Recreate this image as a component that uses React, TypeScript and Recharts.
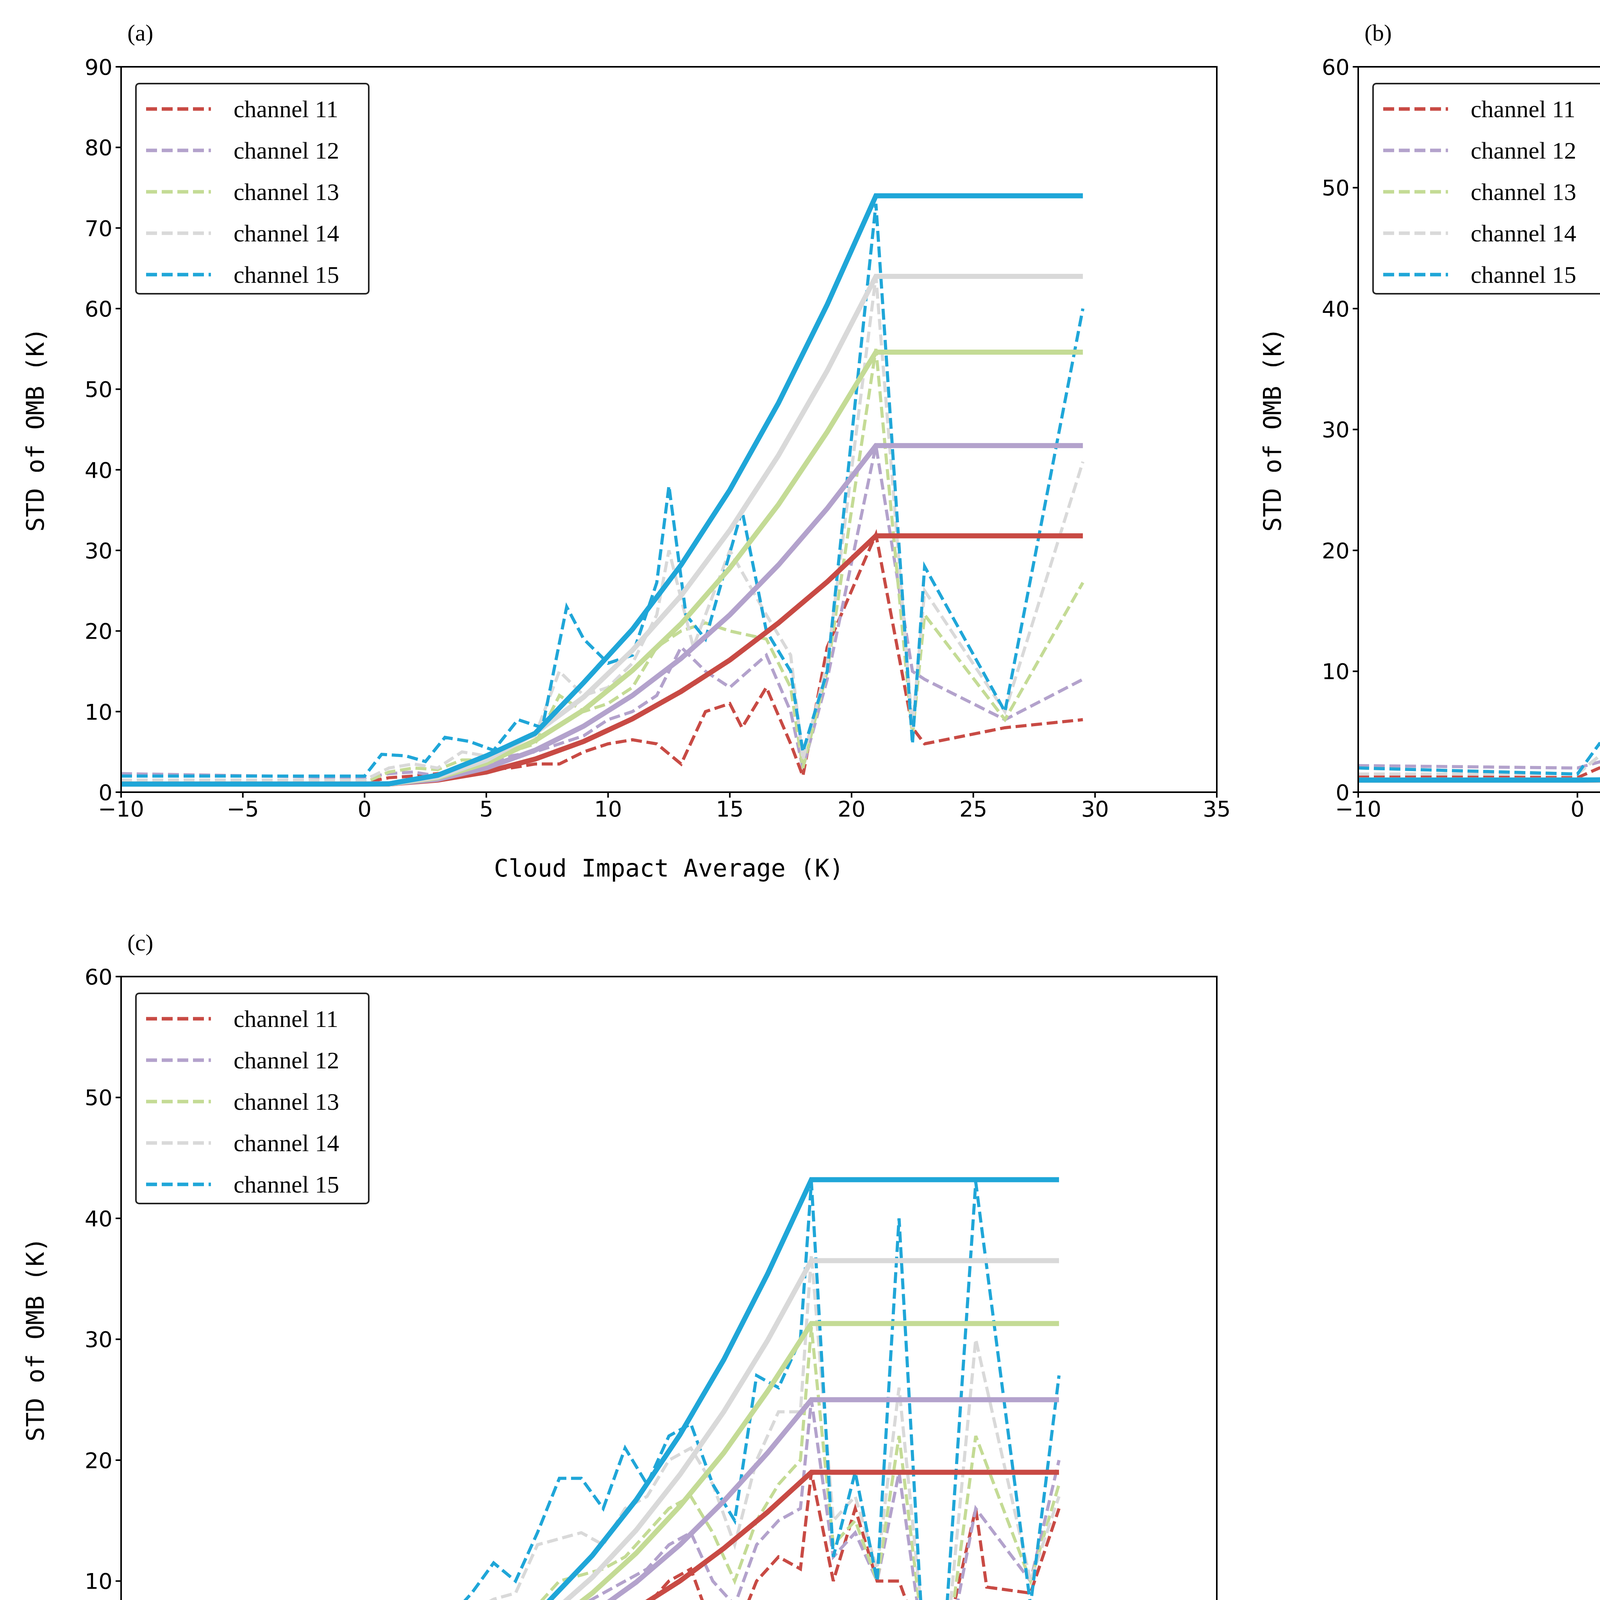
import React from "react";
import { ComposedChart, Line, XAxis, YAxis, ReferenceArea } from "recharts";

type P = [number, number][];
const CHANNELS = ["channel 11", "channel 12", "channel 13", "channel 14", "channel 15"];
const COLORS = ["#c84a44", "#b3a2cc", "#c4db95", "#d9d9d9", "#1fa6d8"];

// Panel (a)
const aFitX = [-10, 0, 1, 3, 5, 7, 9, 11, 13, 15, 17, 19, 21, 29.5];
const aFit11 = [1, 1, 1.02, 1.5, 2.5, 4.1, 6.3, 9.1, 12.5, 16.4, 21, 26.1, 31.8, 31.8];
const aFit12 = [1, 1, 1.03, 1.6, 3.0, 5.2, 8.2, 12, 16.6, 22, 28.2, 35.2, 43, 43];
const aFit13 = [1, 1, 1.03, 1.8, 3.6, 6.4, 10.2, 15.1, 20.9, 27.8, 35.7, 44.7, 54.6, 54.6];
const aFit14 = [1, 1, 1.04, 1.9, 4.0, 7.3, 11.8, 17.6, 24.4, 32.5, 41.8, 52.3, 64, 64];
const aFit15 = [1, 1, 1.04, 2.1, 4.5, 7.3, 13.6, 20.2, 28.2, 37.5, 48.3, 60.5, 74, 74];
const aObs11: P = [[-10,1],[0,1.2],[1,1.8],[2,2],[3,2.3],[4,2.5],[5,2.8],[6,3],[7,3.5],[8,3.5],[9,5],[10,6],[11,6.5],[12,6],[13,3.5],[14,10],[15,11],[15.5,8],[16.5,13],[17.5,6],[18,2],[19,18],[21,32],[22.5,8],[23,6],[26.3,8],[29.5,9]];
const aObs12: P = [[-10,2.3],[0,1.8],[1,2.3],[2,2.5],[3,2],[4,3],[5,3.5],[6,4.5],[7,5],[8,6],[9,7],[10,9],[11,10],[12,12],[13,18],[14,15],[15,13],[16.5,17],[17.5,10],[18,3],[19,14],[21,43],[22.5,15],[23,14],[26.3,9],[29.5,14]];
const aObs13: P = [[-10,1.3],[0,1.2],[1,2.5],[2,3],[3,2.8],[4,4],[5,4],[6,5],[7,6],[8,12],[9,10],[10,11],[11,13],[12,18],[13,20],[14,21],[15,20],[16.5,19],[17.5,13],[18,3],[19,15],[21,55],[22.5,7],[23,22],[26.3,9],[29.5,26]];
const aObs14: P = [[-10,1.5],[0,1.5],[1,3],[2,3.5],[3,3],[4,5],[5,4.5],[6,6],[7,7],[8,15],[9,12],[10,13],[11,16],[12,22],[12.5,30],[13.5,18],[15,30],[16.5,22],[17.5,17],[18,4],[19,16],[21,64],[22.5,8],[23,25],[26.3,10],[29.5,41]];
const aObs15: P = [[-10,2],[0,2],[0.7,4.7],[1.7,4.5],[2.5,3.8],[3.3,6.8],[4.3,6.3],[5.3,5.2],[6.3,9],[7.3,8],[8.3,23],[9,19],[10,16],[11,17],[12,26],[12.5,38],[13.2,22],[14,19],[15.5,35],[16.5,20],[17.5,15],[18,5],[19,15],[21,73],[22.5,6],[23,28],[26.3,10],[29.5,60]];

// Panel (b)
const bFitX = [-10, 0, 1.5, 3.5, 5.5, 7.5, 9.5, 11.5, 13.5, 15.5, 17.5, 19.5, 21.5, 32.8];
const bFit11 = [1, 1, 1.01, 1.3, 2.1, 3.2, 4.8, 6.9, 9.3, 12.2, 15.5, 19.2, 23.3, 23.3];
const bFit12 = [1, 1, 1.02, 1.5, 2.5, 4, 6.2, 9, 12.3, 16.2, 20.6, 25.7, 31.3, 31.3];
const bFit13 = [1, 1, 1.02, 1.6, 2.9, 4.9, 7.7, 11.3, 15.5, 20.5, 26.3, 32.8, 40, 40];
const bFit14 = [1, 1, 1.03, 1.7, 3.2, 5.6, 9, 13.2, 18.2, 24.2, 31, 38.7, 47.3, 47.3];
const bFit15 = [1, 1, 1.03, 1.8, 3.7, 6.6, 10.5, 15.6, 21.6, 28.8, 37, 46.2, 56.5, 56.5];
const bObs11: P = [[-10,1.3],[0,1.2],[1,2],[2,2],[3,2.3],[4,2.5],[5,2.5],[6,3],[7,3.5],[8,3.3],[9,4],[10,4.5],[11,5],[12,6],[13,9],[14,4.5],[15,9],[16,13],[17,8],[18,5.5],[19,10],[20,13],[21,8.5],[21.5,23.3],[22.5,14],[23.5,4],[24.5,11],[25.5,7],[26.5,7],[27.5,2],[28.5,11],[29.5,9],[32.8,5.2]];
const bObs12: P = [[-10,2.2],[0,2],[1,2.5],[2,3],[3,3],[4,3.5],[5,3],[6,4],[7,5.5],[8,5.5],[9,7],[10,8],[11,9],[12,10],[13,12],[14,8],[15,14],[16,17],[17,11],[18,14],[19,21],[20,20],[21,18],[21.5,31],[22.5,12],[23.5,9],[24.5,12],[25.5,11],[26.5,6],[27.5,2],[29,14],[32.8,6.5]];
const bObs13: P = [[-10,2],[0,1.5],[1,3],[2,3.5],[3,3.5],[4,4.5],[5,3.5],[6,5],[7,7],[8,8],[9,10],[10,11],[11,12],[12,13],[13,20],[14,14],[15,17],[16,21],[17,16],[18,19],[19,23],[20,22],[21,25],[21.5,40],[22.5,13],[23.5,14],[24.5,10],[25.5,14],[26.5,7],[27.5,1.5],[29,21],[32.8,9]];
const bObs14: P = [[-10,1.5],[0,1.5],[1,3],[2,3.5],[3,4],[4,5],[5,4],[6,6],[7,9],[8,9],[9,12],[10,13],[11,14],[12,15],[13,22],[14,19],[15,22],[16,25],[17,23],[18,26],[19,24],[20,28],[21,30],[21.5,47],[22.5,14],[23.5,16],[24.5,12],[25.5,15],[26.5,8],[27.5,2],[29,31],[32.8,16]];
const bObs15: P = [[-10,2],[0,1.5],[1,4],[1.5,3.5],[2,4],[3,5],[4,6.5],[5,6],[6,9],[7,13],[8,10],[9,17],[10,14],[11,17],[12,15],[12.8,25],[13.3,18],[14,14],[14.7,25],[15.7,28],[16.5,20],[17.3,19],[18,28],[19,27],[20,30],[21,32],[21.5,56.5],[22.5,12],[23.5,17],[24.5,10],[25.5,20],[26.5,8],[27.5,3],[29,48],[32.8,26]];

// Panel (c)
const cFitX = bFitX;
const cFit11 = [1, 1, 1.01, 1.3, 1.9, 2.8, 4.1, 5.7, 7.7, 10, 12.7, 15.7, 19, 19];
const cFit12 = [1, 1, 1.01, 1.4, 2.2, 3.4, 5.1, 7.3, 9.9, 13, 16.6, 20.6, 25, 25];
const cFit13 = [1, 1, 1.02, 1.5, 2.5, 4, 6.2, 9, 12.3, 16.2, 20.6, 25.7, 31.3, 31.3];
const cFit14 = [1, 1, 1.02, 1.5, 2.7, 4.6, 7.1, 10.3, 14.2, 18.8, 24, 29.9, 36.5, 36.5];
const cFit15 = [1, 1, 1.03, 1.6, 3, 5.2, 8.3, 12.1, 16.7, 22.1, 28.3, 35.4, 43.2, 43.2];
const cObs11: P = [[-10,1.5],[0,1.5],[1,2],[2,2],[3,2.3],[4,2.5],[5,2.5],[6,3],[7,3.5],[8,3.5],[9,3.8],[10,3.5],[11,5],[12,6],[13,4.5],[14,8],[15,10],[16,11],[17,6],[18,5.5],[19,10],[20,12],[21,11],[21.5,19],[22.5,10],[23.5,16],[24.5,10],[25.5,10],[26.5,5],[27.5,4],[29,16],[29.5,9.5],[31.5,9],[32.8,16]];
const cObs12: P = [[-10,2],[0,1.7],[1,2.5],[2,2.5],[3,3],[4,3],[5,3.5],[6,4],[7,4.5],[8,5],[9,6],[10,7],[11,8],[12,9],[13,10],[14,11],[15,13],[16,14],[17,10],[18,8],[19,13],[20,15],[21,16],[21.5,25],[22.5,12],[23.5,14],[24.5,10],[25.5,19],[26.5,6],[27.5,2],[29,16],[31.5,10],[32.8,20]];
const cObs13: P = [[-10,1.7],[0,1.5],[1,2.5],[2,3],[3,3.5],[4,4],[5,4.5],[6,5.5],[7,6.5],[8,7],[9,8],[10,10],[11,10.5],[12,11],[13,12],[14,14],[15,16],[16,17],[17,14],[18,10],[19,15],[20,18],[21,20],[21.5,31],[22.5,13],[23.5,15],[24.5,10],[25.5,22],[26.5,7],[27.5,1.5],[29,22],[31.5,10],[32.8,18]];
const cObs14: P = [[-10,1.5],[0,1.5],[1,3],[2,3.5],[3,4],[4,5],[5,5.5],[6,7.5],[7,8.5],[8,9],[9,13],[10,13.5],[11,14],[12,13],[13,16],[14,17],[15,20],[16,21],[17,18],[18,13],[19,20],[20,24],[21,24],[21.5,37],[22.5,15],[23.5,17],[24.5,11],[25.5,26],[26.5,8],[27.5,1.5],[29,30],[31.5,10],[32.8,17]];
const cObs15: P = [[-10,1.5],[-8,1.7],[0,1.5],[1,4.5],[2,4.5],[3,5.5],[4,6],[5,7],[6,9],[7,11.5],[8,10],[9,14],[10,18.5],[11,18.5],[12,16],[13,21],[14,18],[15,22],[16,23],[17,18],[18,15],[19,27],[20,26],[21,30],[21.5,43],[22.5,12],[23.5,19],[24.5,10],[25.5,40],[26.5,8],[27.5,3],[29,43],[31.5,8],[32.8,27]];

const aXTicks = [-10, -5, 0, 5, 10, 15, 20, 25, 30, 35];
const bXTicks = [-10, 0, 10, 20, 30, 40];
const aYTicks = [0, 10, 20, 30, 40, 50, 60, 70, 80, 90];
const bYTicks = [0, 10, 20, 30, 40, 50, 60];

const toPts = (p: P) => p.map(([x, y]) => ({ x, y }));
const fitPts = (xs: number[], ys: number[]) => xs.map((x, i) => ({ x, y: ys[i] }));
const fmt = (v: number) => (v < 0 ? "\u2212" + Math.abs(v) : String(v));

const tickStyle = { fontSize: 56, fill: "#000", fontFamily: "DejaVu Sans" };
const labelFont = "'DejaVu Sans Mono', monospace";

const LegendBox = () => (
  <div style={{ position: "absolute", left: 346, top: 212, width: 600, height: 542, border: "4px solid #222", borderRadius: 10, background: "#fff", boxSizing: "border-box" }}>
    {CHANNELS.map((c, i) => (
      <div key={c} style={{ position: "absolute", left: 0, top: 18 + i * 106, height: 90, display: "flex", alignItems: "center" }}>
        <svg width={240} height={20} style={{ marginLeft: 20 }}>
          <line x1={4} y1={10} x2={170} y2={10} stroke={COLORS[i]} strokeWidth={9} strokeDasharray="28 12" />
        </svg>
        <span style={{ fontFamily: "'Liberation Serif'", fontSize: 62, marginLeft: -12, whiteSpace: "nowrap" }}>{c}</span>
      </div>
    ))}
  </div>
);

interface PanelProps {
  left: number; top: number; width: number; marginRight: number;
  title: string; xDomain: [number, number]; xTicks: number[]; yDomain: [number, number]; yTicks: number[];
  fitX: number[]; fits: number[][]; obs: P[];
}

const Panel = (p: PanelProps) => (
  <div style={{ position: "absolute", left: p.left, top: p.top, width: p.width, height: 2300 }}>
    <ComposedChart width={p.width} height={2300} margin={{ top: 171, right: p.marginRight, bottom: 122, left: 160 }}>
      <XAxis type="number" dataKey="x" domain={p.xDomain} ticks={p.xTicks} allowDataOverflow tickFormatter={fmt}
        tick={tickStyle} tickSize={14} tickMargin={8} height={150} stroke="#000" strokeWidth={4}
        label={{ value: "Cloud Impact Average (K)", position: "bottom", offset: 22, style: { fontSize: 62, fontFamily: labelFont, fill: "#000" } }} />
      <YAxis type="number" domain={p.yDomain} ticks={p.yTicks} allowDataOverflow
        tick={tickStyle} tickSize={14} tickMargin={8} width={150} stroke="#000" strokeWidth={4} />
      <ReferenceArea x1={p.xDomain[0]} x2={p.xDomain[1]} y1={p.yDomain[0]} y2={p.yDomain[1]} fill="none" stroke="#000" strokeWidth={4} ifOverflow="visible" />
      {p.obs.map((o, i) => (
        <Line key={"o" + i} data={toPts(o)} dataKey="y" stroke={COLORS[i]} strokeWidth={8} strokeDasharray="28 12" dot={false} isAnimationActive={false} />
      ))}
      {p.fits.map((f, i) => (
        <Line key={"f" + i} data={fitPts(p.fitX, f)} dataKey="y" stroke={COLORS[i]} strokeWidth={13} dot={false} isAnimationActive={false} />
      ))}
    </ComposedChart>
    <div style={{ position: "absolute", left: 326, top: 50, fontFamily: "'Liberation Serif'", fontSize: 60 }}>{p.title}</div>
    <div style={{ position: "absolute", left: 90, top: 1100, transform: "translate(-50%, -50%) rotate(-90deg)", fontFamily: labelFont, fontSize: 62, whiteSpace: "nowrap" }}>STD of OMB (K)</div>
    <LegendBox />
  </div>
);

export default function App() {
  return (
    <div style={{ position: "absolute", left: 0, top: 0, width: 6353, height: 4632, background: "#fff" }}>
      <Panel left={0} top={0} width={3300} marginRight={185} title="(a)" xDomain={[-10, 35]} xTicks={aXTicks} yDomain={[0, 90]} yTicks={aYTicks}
        fitX={aFitX} fits={[aFit11, aFit12, aFit13, aFit14, aFit15]} obs={[aObs11, aObs12, aObs13, aObs14, aObs15]} />
      <Panel left={3167} top={0} width={3186} marginRight={70} title="(b)" xDomain={[-10, 40]} xTicks={bXTicks} yDomain={[0, 60]} yTicks={bYTicks}
        fitX={bFitX} fits={[bFit11, bFit12, bFit13, bFit14, bFit15]} obs={[bObs11, bObs12, bObs13, bObs14, bObs15]} />
      <Panel left={0} top={2329} width={3300} marginRight={185} title="(c)" xDomain={[-10, 40]} xTicks={bXTicks} yDomain={[0, 60]} yTicks={bYTicks}
        fitX={cFitX} fits={[cFit11, cFit12, cFit13, cFit14, cFit15]} obs={[cObs11, cObs12, cObs13, cObs14, cObs15]} />
    </div>
  );
}
